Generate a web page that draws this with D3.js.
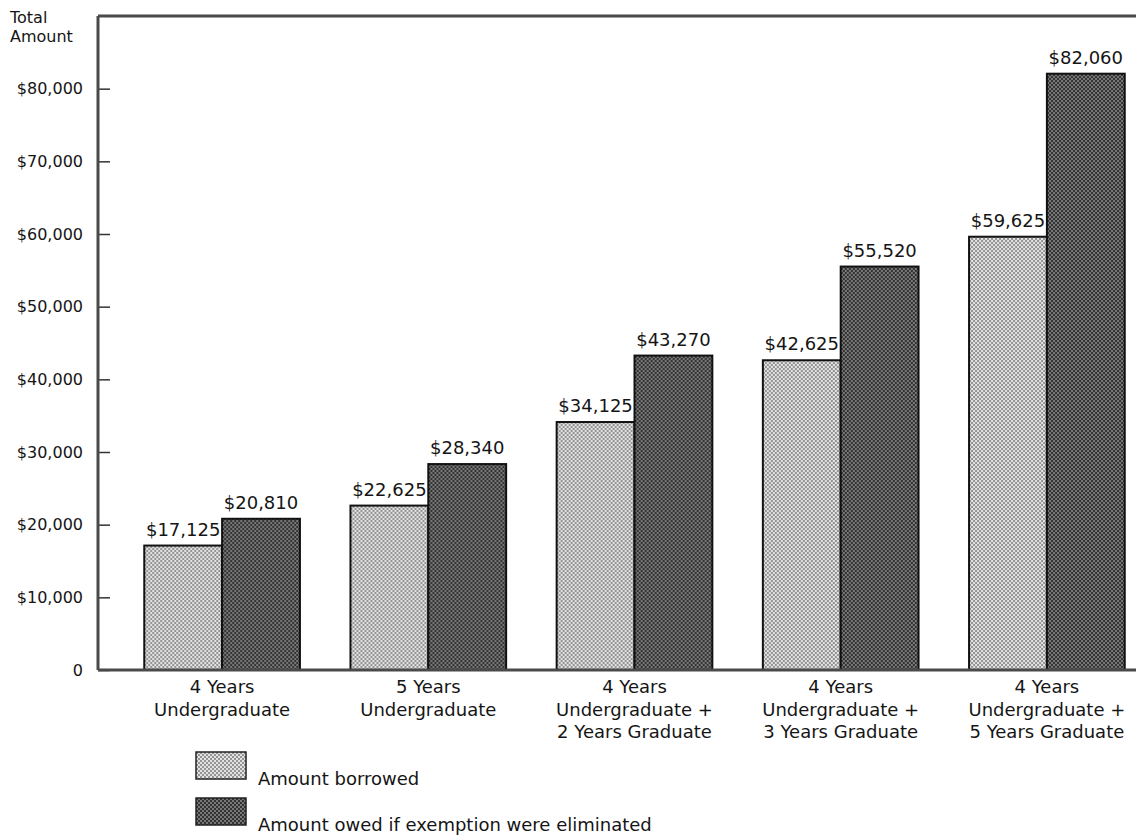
<!DOCTYPE html>
<html lang="en">
<head>
    <meta charset="UTF-8" />
    <title>Total Amount Borrowed vs Owed</title>
    <script src="https://d3js.org/d3.v7.min.js"></script>
    <style>
        body {
            margin: 0;
            background: #fff;
            font-family: "DejaVu Sans", Verdana, sans-serif;
        }

        .axis-label,
        .tick text,
        .value-label,
        .cat-label,
        .legend text {
            font-family: "DejaVu Sans", Verdana, sans-serif;
            fill: #151515;
        }
    </style>
</head>
<body>
    <svg id="chart" width="1136" height="836"></svg>

    <script>
        // chart data
        const categories = [
            ["4 Years", "Undergraduate"],
            ["5 Years", "Undergraduate"],
            ["4 Years", "Undergraduate +", "2 Years Graduate"],
            ["4 Years", "Undergraduate +", "3 Years Graduate"],
            ["4 Years", "Undergraduate +", "5 Years Graduate"]
        ];
        const borrowed = [17125, 22625, 34125, 42625, 59625];
        const owed = [20810, 28340, 43270, 55520, 82060];
        const seriesNames = ["Amount borrowed", "Amount owed if exemption were eliminated"];
        const yTicks = [0, 10000, 20000, 30000, 40000, 50000, 60000, 70000, 80000];

        const svg = d3.select("#chart");

        // dotted textures like the printed screen
        const defs = svg.append("defs");
        const light = defs.append("pattern")
            .attr("id", "lightDots")
            .attr("width", 4).attr("height", 4)
            .attr("patternUnits", "userSpaceOnUse");
        light.append("rect").attr("width", 4).attr("height", 4).attr("fill", "#e2e2e2");
        light.append("circle").attr("cx", 1).attr("cy", 1).attr("r", 1).attr("fill", "#7a7a7a");
        light.append("circle").attr("cx", 3).attr("cy", 3).attr("r", 1).attr("fill", "#7a7a7a");

        const dark = defs.append("pattern")
            .attr("id", "darkDots")
            .attr("width", 4).attr("height", 4)
            .attr("patternUnits", "userSpaceOnUse");
        dark.append("rect").attr("width", 4).attr("height", 4).attr("fill", "#333");
        dark.append("circle").attr("cx", 1).attr("cy", 1).attr("r", 0.9).attr("fill", "#999");
        dark.append("circle").attr("cx", 3).attr("cy", 3).attr("r", 0.9).attr("fill", "#999");

        const fills = ["url(#lightDots)", "url(#darkDots)"];

        const x0 = 98, yBase = 670, yTop = 16;

        const x = d3.scaleBand()
            .domain(d3.range(categories.length))
            .range([119, 1150])
            .paddingInner(0.245)
            .paddingOuter(0.1225);

        const xSub = d3.scaleBand()
            .domain([0, 1])
            .range([0, x.bandwidth()]);

        const y = d3.scaleLinear()
            .domain([0, 90000])
            .range([yBase, yTop]);

        // bars
        const groups = svg.append("g").selectAll("g")
            .data(categories.map((c, i) => ({ i, values: [borrowed[i], owed[i]] })))
            .join("g")
            .attr("transform", d => `translate(${x(d.i)},0)`);

        groups.selectAll("rect")
            .data(d => d.values.map((v, s) => ({ v, s })))
            .join("rect")
            .attr("x", d => xSub(d.s))
            .attr("y", d => y(d.v))
            .attr("width", xSub.bandwidth())
            .attr("height", d => y(0) - y(d.v))
            .attr("fill", d => fills[d.s])
            .attr("stroke", "#111")
            .attr("stroke-width", 2);

        groups.selectAll(".value-label")
            .data(d => d.values.map((v, s) => ({ v, s })))
            .join("text")
            .attr("class", "value-label")
            .attr("x", d => xSub(d.s) + xSub.bandwidth() / 2)
            .attr("y", d => y(d.v) - 10)
            .attr("text-anchor", "middle")
            .attr("font-size", "18px")
            .text(d => "$" + d3.format(",")(d.v));

        // y axis with inward ticks
        const yAxis = d3.axisLeft(y)
            .tickValues(yTicks)
            .tickSize(-12)
            .tickPadding(15)
            .tickFormat(d => d === 0 ? "0" : "$" + d3.format(",")(d));

        const yg = svg.append("g")
            .attr("transform", `translate(${x0},0)`)
            .call(yAxis);
        yg.select(".domain").remove();
        yg.selectAll(".tick line").attr("stroke", "#333").attr("stroke-width", 1.5);
        yg.selectAll(".tick text").attr("font-size", "16px");

        // frame lines: left axis, top, baseline
        const frame = svg.append("g")
            .attr("stroke", "#4a4a4a")
            .attr("stroke-width", 3)
            .attr("fill", "none");
        frame.append("line").attr("x1", x0).attr("x2", x0).attr("y1", yTop).attr("y2", yBase);
        frame.append("line").attr("x1", x0).attr("x2", 1136).attr("y1", yTop).attr("y2", yTop);
        frame.append("line").attr("x1", x0).attr("x2", 1136).attr("y1", yBase).attr("y2", yBase);

        // axis title
        svg.append("text")
            .attr("class", "axis-label")
            .attr("font-size", "16px")
            .selectAll("tspan")
            .data(["Total", "Amount"])
            .join("tspan")
            .attr("x", 10)
            .attr("y", (d, i) => 23 + i * 19)
            .text(d => d);

        // category labels
        svg.append("g").selectAll("text")
            .data(categories)
            .join("text")
            .attr("class", "cat-label")
            .attr("text-anchor", "middle")
            .attr("font-size", "18px")
            .each(function (lines, i) {
                d3.select(this).selectAll("tspan")
                    .data(lines)
                    .join("tspan")
                    .attr("x", x(i) + x.bandwidth() / 2)
                    .attr("y", (d, j) => 693 + j * 22.5)
                    .text(d => d);
            });

        // legend
        const legend = svg.append("g").attr("class", "legend");
        seriesNames.forEach((name, i) => {
            const ly = 752 + i * 46;
            legend.append("rect")
                .attr("x", 196).attr("y", ly)
                .attr("width", 50).attr("height", 27)
                .attr("fill", fills[i])
                .attr("stroke", "#222")
                .attr("stroke-width", 1.5);
            legend.append("text")
                .attr("x", 258).attr("y", ly + 33)
                .attr("font-size", "18px")
                .text(name);
        });
    </script>
</body>
</html>
